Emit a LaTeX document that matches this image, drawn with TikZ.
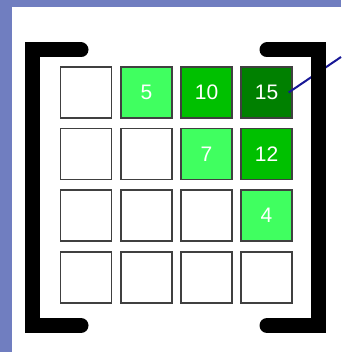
\documentclass[tikz,border=0pt]{standalone}
\usepackage{fontspec}
\setsansfont{Liberation Sans}
\usepackage{tikz}
\usetikzlibrary{positioning}

\definecolor{slideblue}{RGB}{112,126,192}
\definecolor{lightgreen}{RGB}{64,255,96}
\definecolor{midgreen}{RGB}{0,192,0}
\definecolor{darkgreen}{RGB}{0,128,0}
\definecolor{pointer}{RGB}{24,24,150}

\begin{document}
\begin{tikzpicture}[
    x=1pt, y=-1pt,
    cell/.style={rectangle, draw=black!75, line width=1.2pt, fill=white, minimum width=51pt, minimum height=51pt, inner sep=0pt, font=\sffamily\fontsize{21}{21}\selectfont, text=white},
    light/.style={cell, fill=lightgreen},
    mid/.style={cell, fill=midgreen},
    dark/.style={cell, fill=darkgreen},
    bracket/.style={line width=15pt, line cap=round, line join=miter}
]

% Slide background and white panel
\fill[slideblue] (0,0) rectangle (341,352);
\fill[white] (12,7) rectangle (341,352);
\useasboundingbox (0,0) rectangle (341,352);

% Row 1
\node[cell]  (c11) at (86,92.5)    {};
\node[light] (c12) at (146.5,92.5) {5};
\node[mid]   (c13) at (206.5,92.5) {10};
\node[dark]  (c14) at (266.5,92.5) {15};

% Row 2
\node[cell]  (c21) at (86,154)    {};
\node[cell]  (c22) at (146.5,154) {};
\node[light] (c23) at (206.5,154) {7};
\node[mid]   (c24) at (266.5,154) {12};

% Row 3
\node[cell]  (c31) at (86,215.5)    {};
\node[cell]  (c32) at (146.5,215.5) {};
\node[cell]  (c33) at (206.5,215.5) {};
\node[light] (c34) at (266.5,215.5) {4};

% Row 4
\node[cell] (c41) at (86,277.5)    {};
\node[cell] (c42) at (146.5,277.5) {};
\node[cell] (c43) at (206.5,277.5) {};
\node[cell] (c44) at (266.5,277.5) {};

% Pointer leaving the top right entry
\coordinate (ptr) at (341,57);
\draw[pointer, line width=2pt] ([xshift=-4pt]c14.east) -- (ptr);

% Matrix brackets
\draw[bracket] (81,50) -- (32,50) -- (32,325.5) -- (81,325.5);
\draw[bracket] (267,50) -- (318,50) -- (318,325.5) -- (267,325.5);

\end{tikzpicture}
\end{document}
